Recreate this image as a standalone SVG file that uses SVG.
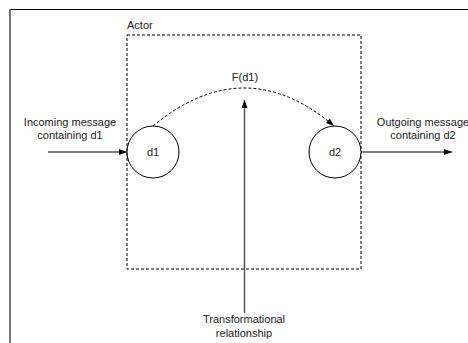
<svg xmlns="http://www.w3.org/2000/svg" width="468" height="343" viewBox="0 0 468 343">
<defs>
<style>
text{font-family:"Liberation Sans",Arial,sans-serif;font-size:11px;fill:#222;}
.c{text-anchor:middle;}
.node{fill:#fff;stroke:#000;stroke-width:1;}
.conn{fill:none;stroke:#000;stroke-width:1;}
.dash{fill:none;stroke:#000;stroke-width:1;stroke-dasharray:3,2;}
</style>
<marker id="arr" viewBox="0 0 8 6" refX="8" refY="3" markerWidth="8" markerHeight="6" markerUnits="userSpaceOnUse" orient="auto">
<path d="M0,0 L8,3 L0,6 z" fill="#000"/>
</marker>
</defs>
<rect width="468" height="343" fill="#fff"/>
<g id="frame">
<line x1="10" y1="9.5" x2="468" y2="9.5" stroke="#000" stroke-width="1"/>
<line x1="10" y1="9" x2="10" y2="343" stroke="#777" stroke-width="2"/>
</g>
<g id="actor">
<rect x="127" y="35" width="234" height="234" class="dash"/>
<text x="127" y="29">Actor</text>
</g>
<g id="connectors">
<line x1="48" y1="152" x2="127" y2="152" class="conn" marker-end="url(#arr)"/>
<line x1="361" y1="152" x2="452" y2="152" class="conn" marker-end="url(#arr)"/>
<path d="M153,126 Q245,50 334,126" class="dash" marker-end="url(#arr)"/>
<line x1="244.5" y1="313" x2="244.5" y2="100" stroke="#555" stroke-width="1.5" marker-end="url(#arr)"/>
</g>
<g id="d1">
<circle cx="153" cy="152" r="26" class="node"/>
<text x="153" y="156" class="c">d1</text>
</g>
<g id="d2">
<circle cx="335" cy="152" r="26" class="node"/>
<text x="335" y="156" class="c">d2</text>
</g>
<g id="labels">
<text x="245" y="81" class="c">F(d1)</text>
<text x="70" y="126" class="c">Incoming message</text>
<text x="70" y="139" class="c">containing d1</text>
<text x="423" y="126" class="c">Outgoing message</text>
<text x="423" y="139" class="c">containing d2</text>
<text x="244" y="323" class="c">Transformational</text>
<text x="244" y="337" class="c">relationship</text>
</g>
</svg>
